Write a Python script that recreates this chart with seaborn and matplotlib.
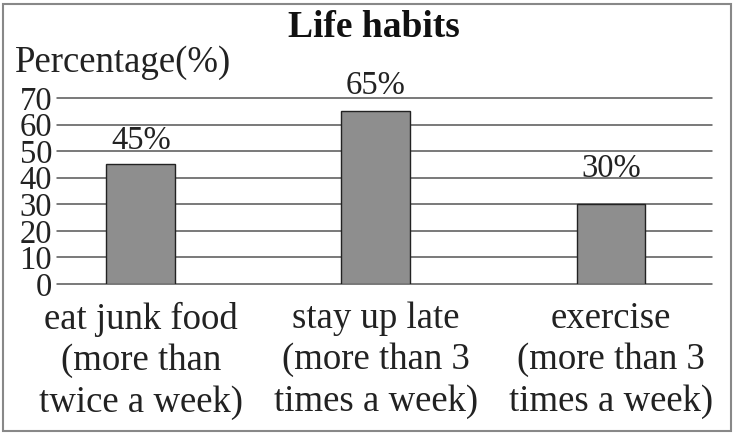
import matplotlib
matplotlib.use("Agg")
import matplotlib.pyplot as plt
import seaborn as sns
import pandas as pd
from matplotlib.patches import Rectangle

# ---- data ----
categories = ["eat junk food\n(more than\ntwice a week)",
              "stay up late\n(more than 3\ntimes a week)",
              "exercise\n(more than 3\ntimes a week)"]
values = [45, 65, 30]
value_labels = ["45%", "65%", "30%"]
yticks = [0, 10, 20, 30, 40, 50, 60, 70]
title = "Life habits"
ylabel = "Percentage(%)"

label_offsets_pt = [10.8, 12.2, 19.4]  # gap between bar top and label baseline (points)

sns.set_theme(style="white")
plt.rcParams['font.family'] = ['Liberation Serif', 'DejaVu Serif']

df = pd.DataFrame({"habit": categories, "value": values})

fig = plt.figure(figsize=(7.34, 4.34), dpi=100)
ax = fig.add_axes([57/734, (434-284)/434, 655/734, (284-98)/434])

for y in yticks:
    ax.axhline(y, color="#555555", lw=1.1, zorder=0, clip_on=False)

sns.barplot(data=df, x="habit", y="value", ax=ax, color="#8e8e8e",
            edgecolor="#222222", linewidth=1.0, width=0.293, saturation=1, zorder=2)

ax.set_ylim(0, 70)
ax.set_xlim(-0.357, 2.43)
ax.set_yticks(yticks)
ax.set_yticklabels([str(t) for t in yticks], fontsize=23.5, color="#222222")
ax.tick_params(axis="y", length=0, pad=3.5)
ax.tick_params(axis="x", length=0, pad=12.5, labelsize=26.5, labelcolor="#222222")
for lab in ax.get_xticklabels():
    lab.set_linespacing(1.26)
ax.set_xlabel("")
ax.set_ylabel("")
for s in ax.spines.values():
    s.set_visible(False)
ax.set_facecolor("none")

for i, (v, t) in enumerate(zip(values, value_labels)):
    ax.annotate(t, (i, v), xytext=(0, label_offsets_pt[i]), textcoords="offset points",
                ha="center", va="baseline", fontsize=23.5, color="#222222")

fig.text(373.5/734, (434-37)/434, title, ha="center", va="baseline",
         fontsize=27, fontweight="bold", color="#111111")
fig.text(15/734, (434-72)/434, ylabel, ha="left", va="baseline",
         fontsize=26.5, color="#222222")

fig.patches.append(Rectangle((3/734, 3/434), 728/734, 427/434, transform=fig.transFigure,
                             fill=False, edgecolor="#888888", lw=1.5))

fig.savefig("out.png", dpi=100, facecolor="white")
